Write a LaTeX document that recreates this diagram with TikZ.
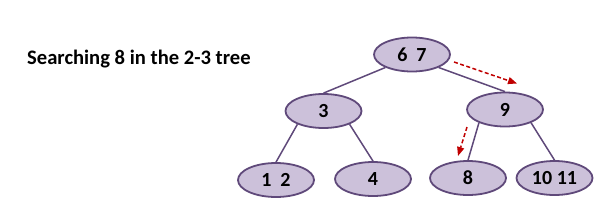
\documentclass[tikz,border=0pt]{standalone}
\usepackage{fontspec}
\setmainfont{Carlito}
\usetikzlibrary{arrows.meta,shapes.geometric}
\definecolor{nodefill}{HTML}{CCC1DA}
\definecolor{nodeline}{HTML}{5F497A}
\definecolor{searchred}{HTML}{C00000}
\tikzset{
  treenode/.style={ellipse,draw=nodeline,fill=nodefill,line width=1.8pt,
    minimum width=76pt,minimum height=34pt,inner sep=0pt,
    font=\fontsize{20}{20}\selectfont\bfseries},
  treeedge/.style={draw=nodeline,line width=1.5pt},
  searcharrow/.style={draw=searchred,line width=1.5pt,dash pattern=on 4pt off 2.5pt,
    -{Triangle[length=9pt,width=7pt,fill=searchred]}},
  titletext/.style={anchor=base west,inner sep=0pt,font=\fontsize{20.6}{20.6}\selectfont\bfseries}
}
\begin{document}
\begin{tikzpicture}[x=1pt,y=-1pt]
\path[use as bounding box] (0,0) rectangle (604,215);
\node[titletext] (title) at (27,64.3) {Searching 8 in the 2-3 tree};
\node[treenode] (root) at (412,54.5) {6\hspace{0.45em}7};
\node[treenode] (n3) at (323.5,111) {3};
\node[treenode] (n9) at (505,109.5) {9};
\node[treenode] (n12) at (276,180) {1\hspace{0.45em}2};
\node[treenode] (n4) at (373,179) {4};
\node[treenode] (n8) at (468,178) {8};
\node[treenode] (n1011) at (554.5,178) {10 11};
\draw[treeedge] (root.-154) -- (n3.north);
\draw[treeedge] (root.-26) -- (n9.north);
\draw[treeedge] (n3.-153) -- (n12.north);
\draw[treeedge] (n3.-27) -- (n4.north);
\draw[treeedge] (n9.-153) -- (n8.north);
\draw[treeedge] (n9.-27) -- (n1011.north);
\coordinate (a1s) at (454,62);
\coordinate (a1e) at (517,83.5);
\coordinate (a2s) at (467,127);
\coordinate (a2e) at (458,156);
\draw[searcharrow] (a1s) -- (a1e);
\draw[searcharrow] (a2s) -- (a2e);
\end{tikzpicture}
\end{document}
